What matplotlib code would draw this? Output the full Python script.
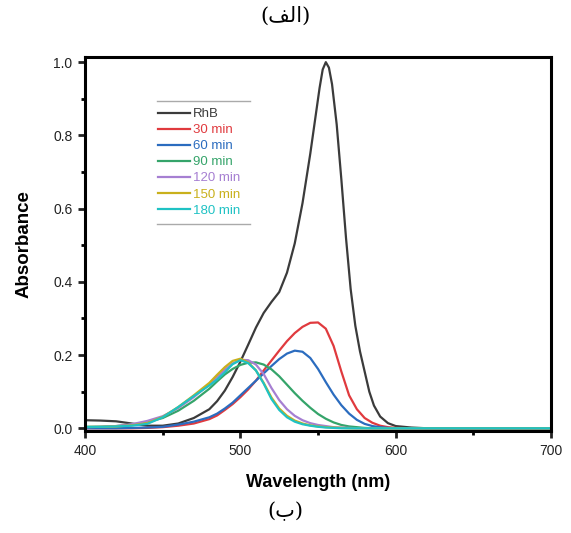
import matplotlib
matplotlib.use('Agg')
from matplotlib import pyplot as plt
from matplotlib.lines import Line2D
from matplotlib.ticker import MultipleLocator, FormatStrFormatter


# common wavelength grid for the degraded samples
wavelength = [400, 410, 420, 430, 440, 450, 460, 470, 480, 485,
              490, 495, 500, 505, 510, 515, 520, 525, 530, 535,
              540, 545, 550, 555, 560, 565, 570, 575, 580, 585,
              590, 595, 600, 610, 620, 640, 660, 680, 700]

# RhB is sampled more finely around its sharp peak
rhb_wavelength = [400, 410, 420, 430, 440, 450, 460, 470, 480, 485,
                  490, 495, 500, 505, 510, 515, 520, 525, 530, 535,
                  540, 545, 548, 551, 553, 555, 557, 559, 562, 565,
                  568, 571, 574, 577, 580, 583, 586, 590, 595, 600,
                  610, 620, 700]
rhb = [0.022, 0.021, 0.019, 0.013, 0.007, 0.007, 0.013, 0.028, 0.052, 0.074,
       0.103, 0.140, 0.182, 0.228, 0.275, 0.315, 0.345, 0.372, 0.425, 0.505,
       0.615, 0.750, 0.840, 0.930, 0.980, 1.000, 0.985, 0.940, 0.830, 0.680,
       0.520, 0.380, 0.280, 0.210, 0.155, 0.100, 0.062, 0.032, 0.014, 0.006,
       0.002, 0.000, 0.000]

min30 = [0.000, 0.000, 0.000, 0.000, 0.001, 0.003, 0.007, 0.013, 0.025, 0.035,
         0.050, 0.066, 0.085, 0.106, 0.130, 0.158, 0.185, 0.212, 0.238, 0.260,
         0.277, 0.288, 0.289, 0.272, 0.225, 0.155, 0.090, 0.052, 0.028, 0.015,
         0.007, 0.003, 0.001, 0.000, 0.000, 0.000, 0.000, 0.000, 0.000]

min60 = [0.000, 0.000, 0.000, 0.001, 0.002, 0.004, 0.010, 0.018, 0.030, 0.040,
         0.054, 0.070, 0.090, 0.110, 0.130, 0.150, 0.170, 0.189, 0.204, 0.212,
         0.209, 0.192, 0.162, 0.126, 0.092, 0.063, 0.040, 0.023, 0.012, 0.006,
         0.003, 0.001, 0.000, 0.000, 0.000, 0.000, 0.000, 0.000, 0.000]

min90 = [0.003, 0.004, 0.006, 0.010, 0.017, 0.028, 0.048, 0.075, 0.108, 0.128,
         0.147, 0.162, 0.173, 0.179, 0.180, 0.174, 0.161, 0.142, 0.119, 0.096,
         0.075, 0.056, 0.039, 0.026, 0.016, 0.009, 0.005, 0.003, 0.001, 0.000,
         0.000, 0.000, 0.000, 0.000, 0.000, 0.000, 0.000, 0.000, 0.000]

min120 = [0.003, 0.004, 0.006, 0.011, 0.020, 0.033, 0.055, 0.085, 0.120, 0.140,
          0.160, 0.177, 0.187, 0.186, 0.174, 0.148, 0.110, 0.077, 0.052, 0.034,
          0.022, 0.014, 0.009, 0.006, 0.003, 0.002, 0.001, 0.000, 0.000, 0.000,
          0.000, 0.000, 0.000, 0.000, 0.000, 0.000, 0.000, 0.000, 0.000]

min150 = [0.004, 0.004, 0.005, 0.008, 0.014, 0.031, 0.058, 0.090, 0.124, 0.146,
          0.167, 0.184, 0.190, 0.180, 0.158, 0.124, 0.084, 0.054, 0.034, 0.021,
          0.013, 0.008, 0.005, 0.003, 0.002, 0.001, 0.000, 0.000, 0.000, 0.000,
          0.000, 0.000, 0.000, 0.000, 0.000, 0.000, 0.000, 0.000, 0.000]

min180 = [0.004, 0.004, 0.005, 0.007, 0.012, 0.030, 0.058, 0.088, 0.117, 0.133,
          0.153, 0.175, 0.186, 0.178, 0.158, 0.122, 0.080, 0.050, 0.030, 0.018,
          0.011, 0.007, 0.004, 0.002, 0.001, 0.000, 0.000, 0.000, 0.000, 0.000,
          0.000, 0.000, 0.000, 0.000, 0.000, 0.000, 0.000, 0.000, 0.000]

series = [
    ('RhB', rhb_wavelength, rhb, '#3b3b3b'),
    ('30 min', wavelength, min30, '#e03a3e'),
    ('60 min', wavelength, min60, '#2b6cbf'),
    ('90 min', wavelength, min90, '#35a46a'),
    ('120 min', wavelength, min120, '#a67fd2'),
    ('150 min', wavelength, min150, '#c9b01c'),
    ('180 min', wavelength, min180, '#1fc2c4'),
]

# captions in Arabic presentation forms, visual order
caption_top = '(\ufed2\ufedf\ufe8d)'
caption_bottom = '(\ufe8f)'

plt.rcParams['font.family'] = ['Liberation Sans', 'DejaVu Sans']

fig = plt.figure(figsize=(5.71, 5.33), dpi=100)
ax = fig.add_axes([0.149, 0.191, 0.816, 0.702])

for label, xs, ys, color in series:
    ax.plot(xs, ys, color=color, lw=1.6, label=label,
            solid_joinstyle='round')

ax.set_xlim(400, 700)
ax.set_ylim(-0.008, 1.014)
ax.xaxis.set_major_locator(MultipleLocator(100))
ax.xaxis.set_minor_locator(MultipleLocator(50))
ax.yaxis.set_major_locator(MultipleLocator(0.2))
ax.yaxis.set_minor_locator(MultipleLocator(0.1))
ax.yaxis.set_major_formatter(FormatStrFormatter('%.1f'))

for spine in ax.spines.values():
    spine.set_linewidth(2.2)
ax.tick_params(which='major', direction='out', length=5, width=2,
               labelsize=10, pad=4, colors='#222222')
ax.tick_params(which='minor', direction='out', length=3, width=2)

ax.set_xlabel('Wavelength (nm)', fontsize=13, fontweight='bold', labelpad=12)
ax.set_ylabel('Absorbance', fontsize=13.5, fontweight='bold', labelpad=15)

leg = ax.legend(loc='upper left', bbox_to_anchor=(0.1455, 0.878),
                frameon=False, fontsize=9.5, handlelength=2.4,
                handletextpad=0.25, labelspacing=0.29,
                labelcolor='linecolor', borderaxespad=0)

# Origin-style rules above and below the legend entries
for y in (0.882, 0.553):
    ax.add_line(Line2D([0.1545, 0.354], [y, y], transform=ax.transAxes,
                       color='#aaaaaa', lw=1))

fig.text(0.5, 0.97, caption_top, ha='center', va='center', fontsize=15,
         family=['DejaVu Serif', 'DejaVu Sans'])
fig.text(0.5, 0.041, caption_bottom, ha='center', va='center', fontsize=15,
         family=['DejaVu Serif', 'DejaVu Sans'])

fig.savefig('out.png', dpi=100)
